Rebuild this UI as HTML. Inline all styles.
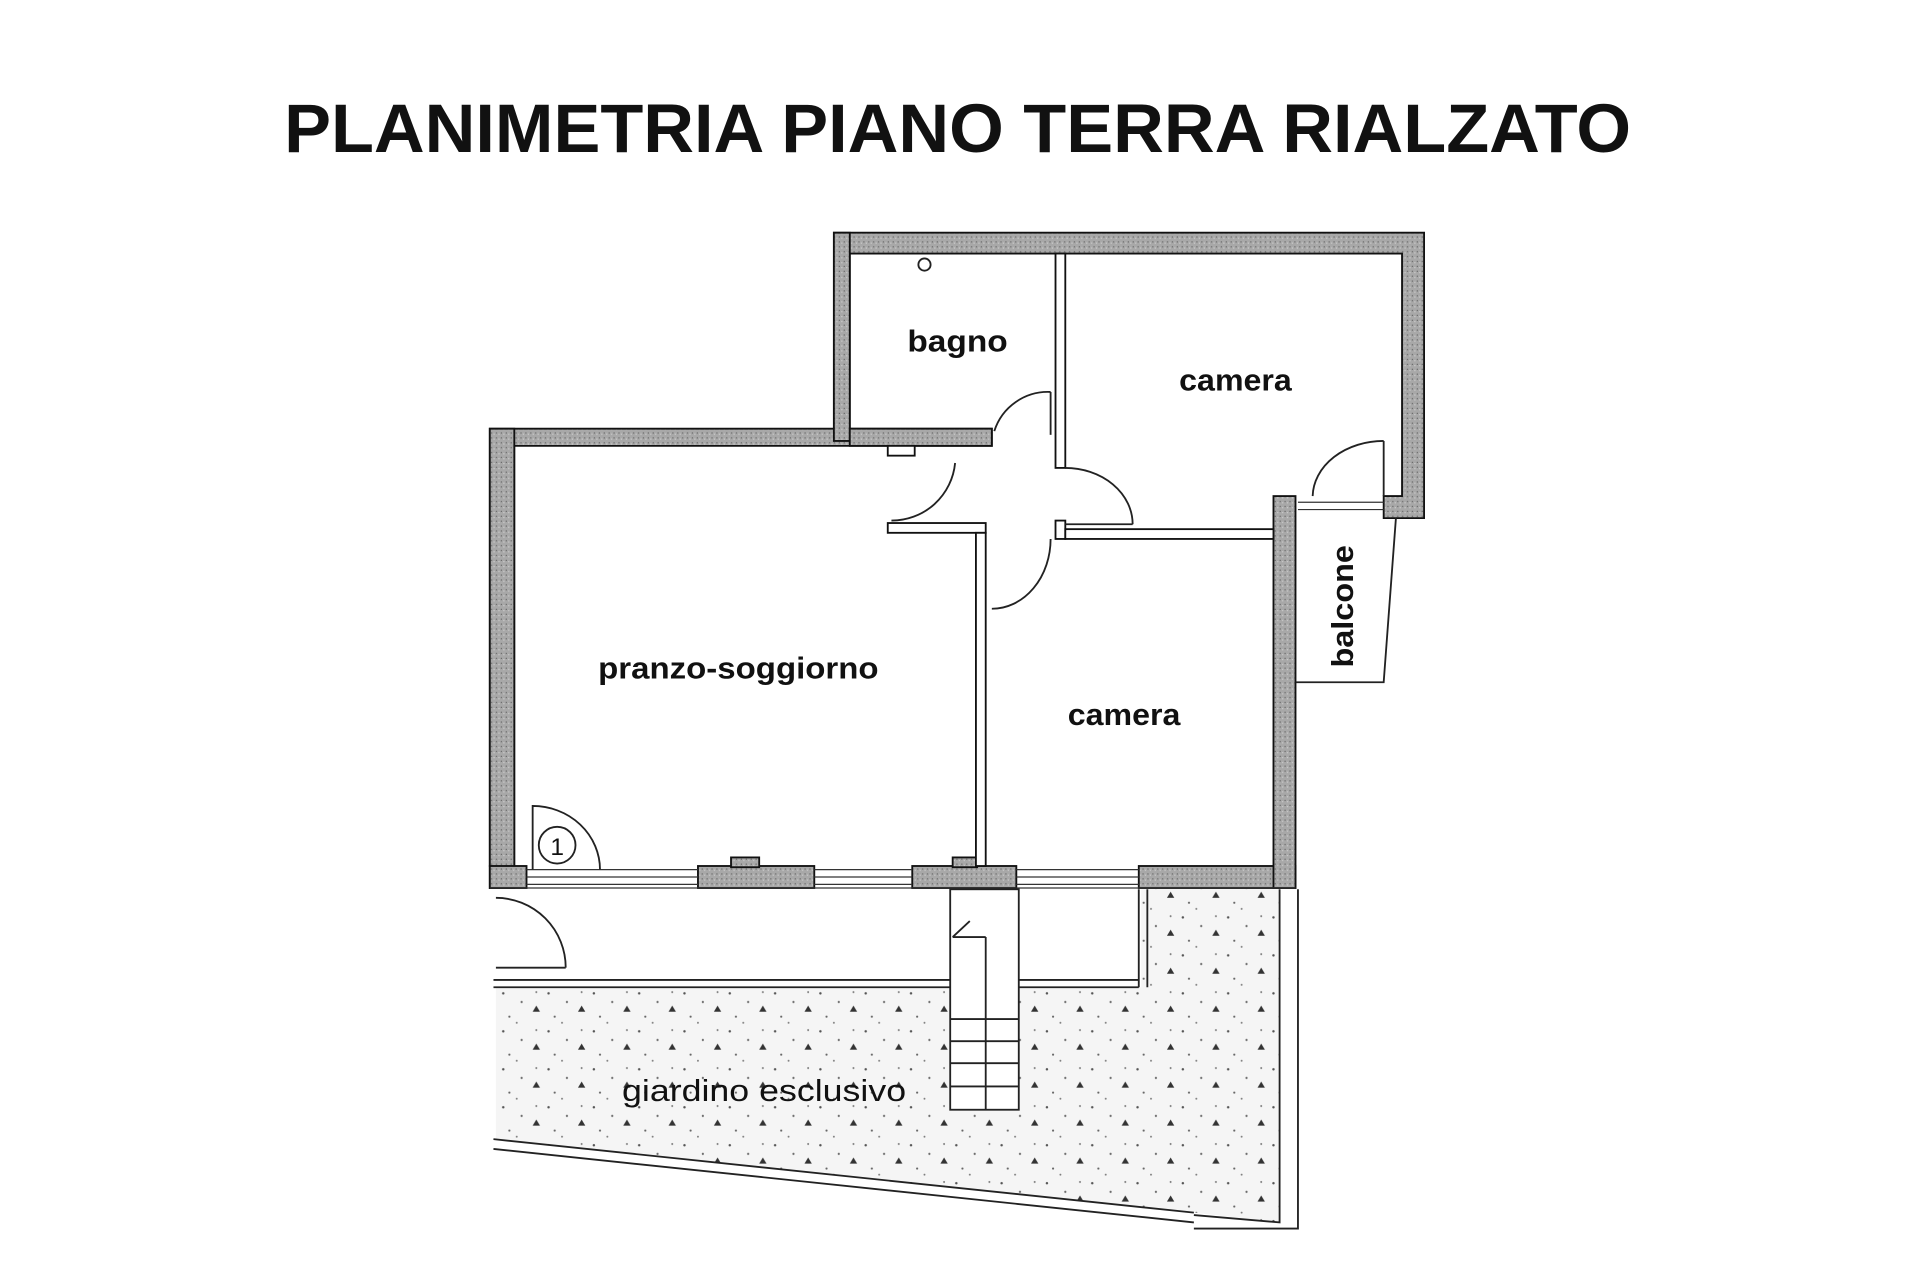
<!DOCTYPE html>
<html><head><meta charset="utf-8"><style>
html,body{margin:0;padding:0;background:#fff;width:1920px;height:1280px;overflow:hidden}
svg{display:block}
text{font-family:"Liberation Sans",sans-serif;font-weight:bold;fill:#111}
</style></head><body>
<svg width="1920" height="1280" viewBox="0 0 1568 1045" preserveAspectRatio="none" xmlns="http://www.w3.org/2000/svg">
<defs>
<pattern id="dots" width="37" height="31" patternUnits="userSpaceOnUse">
<circle cx="4" cy="5" r="1" fill="#555"/><circle cx="19" cy="12" r="0.9" fill="#666"/>
<path d="M28 20 l3 -5 l3 5z" fill="#333"/><circle cx="9" cy="24" r="0.9" fill="#666"/>
<circle cx="31" cy="4" r="0.8" fill="#777"/><circle cx="15" cy="29" r="0.8" fill="#777"/>
</pattern>
<pattern id="wall" width="4" height="4" patternUnits="userSpaceOnUse">
<rect width="4" height="4" fill="#a8a8a8"/><rect x="1" y="1" width="1" height="1" fill="#6a6a6a"/><rect x="3" y="2" width="1" height="1" fill="#ccc"/>
</pattern>
</defs>
<rect width="1568" height="1045" fill="#fff"/>
<text x="782" y="124" text-anchor="middle" font-size="56" textLength="1100" lengthAdjust="spacingAndGlyphs">PLANIMETRIA PIANO TERRA RIALZATO</text>

<!-- garden -->
<polygon points="405,806 932,806 932,726 1045,726 1045,998 975,990 405,930" fill="#f5f5f5"/>
<polygon points="405,806 932,806 932,726 1045,726 1045,998 975,990 405,930" fill="url(#dots)"/>
<g fill="none" stroke="#222" stroke-width="1.5">
<polyline points="1045,726 1045,998 975,992"/>
<polyline points="1060,726 1060,1003 975,1003"/>
<line x1="403" y1="930" x2="975" y2="990"/><line x1="403" y1="938" x2="975" y2="998"/>
<line x1="403" y1="800" x2="930" y2="800"/><line x1="403" y1="806" x2="930" y2="806"/>
<line x1="930" y1="726" x2="930" y2="806"/><line x1="937" y1="726" x2="937" y2="806"/>
<rect x="776" y="726" width="56" height="180" fill="#fff"/>
<line x1="805" y1="765" x2="805" y2="906"/><line x1="778" y1="765" x2="805" y2="765"/>
<line x1="778" y1="765" x2="792" y2="752"/>
<line x1="776" y1="832" x2="832" y2="832"/><line x1="776" y1="850" x2="832" y2="850"/>
<line x1="776" y1="868" x2="832" y2="868"/><line x1="776" y1="887" x2="832" y2="887"/>
<path d="M405,733 A57,57 0 0 1 462,790"/><line x1="405" y1="790" x2="462" y2="790"/>
</g>

<g fill="url(#wall)" stroke="#111" stroke-width="1.5">
<path d="M681,190 H1163 V423 H1130 V405 H1145 V207 H694 V350 H810 V364 H694 H420 V707 H400 V350 H681 Z"/>
<rect x="400" y="350" width="20" height="375"/>
<rect x="400" y="707" width="30" height="18"/>
<rect x="570" y="707" width="95" height="18"/><rect x="597" y="700" width="23" height="8"/>
<rect x="745" y="707" width="85" height="18"/><rect x="778" y="700" width="20" height="8"/>
<rect x="930" y="707" width="128" height="18"/>
<rect x="1040" y="405" width="18" height="320"/>
<rect x="681" y="190" width="13" height="170"/>
<rect x="694" y="350" width="116" height="14"/>
</g>
<g stroke="#333" stroke-width="1" fill="none">
<line x1="430" y1="710" x2="570" y2="710"/><line x1="430" y1="716" x2="570" y2="716"/><line x1="430" y1="722" x2="570" y2="722"/>
<line x1="665" y1="710" x2="745" y2="710"/><line x1="665" y1="716" x2="745" y2="716"/><line x1="665" y1="722" x2="745" y2="722"/>
<line x1="830" y1="710" x2="930" y2="710"/><line x1="830" y1="716" x2="930" y2="716"/><line x1="830" y1="722" x2="930" y2="722"/>
<line x1="400" y1="725" x2="1058" y2="725"/>
<line x1="1060" y1="410" x2="1130" y2="410"/><line x1="1060" y1="416" x2="1130" y2="416"/>
</g>
<g fill="#fff" stroke="#111" stroke-width="1.5">
<rect x="862" y="207" width="8" height="175"/>
<rect x="862" y="425" width="8" height="15"/>
<rect x="870" y="432" width="170" height="8"/>
<rect x="725" y="427" width="80" height="8"/>
<rect x="797" y="435" width="8" height="272"/>
<rect x="725" y="364" width="22" height="8"/>
</g>
<g fill="none" stroke="#222" stroke-width="1.5">
<path d="M812,352 A46,46 0 0 1 858,320"/><line x1="858" y1="320" x2="858" y2="355"/>
<path d="M728,425 A52,52 0 0 0 780,378"/>
<path d="M870,382 A55,46 0 0 1 925,428"/><line x1="870" y1="428" x2="925" y2="428"/>
<path d="M858,440 A48,57 0 0 1 810,497"/>
<path d="M1072,405 A58,46 0 0 1 1130,360"/><line x1="1130" y1="360" x2="1130" y2="405"/>
<polyline points="1058,557 1130,557 1140,423"/>
<path d="M435,710 V658 A55,52 0 0 1 490,710"/>
<circle cx="455" cy="690" r="15"/>
<circle cx="755" cy="216" r="5"/>
</g>
<text x="455" y="698" text-anchor="middle" font-size="20" style="font-weight:normal">1</text>

<g font-size="25">
<text x="782" y="287" text-anchor="middle" textLength="82" lengthAdjust="spacingAndGlyphs">bagno</text>
<text x="1009" y="319" text-anchor="middle" textLength="92" lengthAdjust="spacingAndGlyphs">camera</text>
<text x="603" y="554" text-anchor="middle" textLength="229" lengthAdjust="spacingAndGlyphs">pranzo-soggiorno</text>
<text x="918" y="592" text-anchor="middle" textLength="92" lengthAdjust="spacingAndGlyphs">camera</text>
<text x="624" y="899" text-anchor="middle" textLength="232" lengthAdjust="spacingAndGlyphs" style="font-weight:normal">giardino esclusivo</text>
<text x="0" y="0" text-anchor="middle" transform="translate(1105,495) rotate(-90)" textLength="100" lengthAdjust="spacingAndGlyphs">balcone</text>
</g>
</svg>
</body></html>
